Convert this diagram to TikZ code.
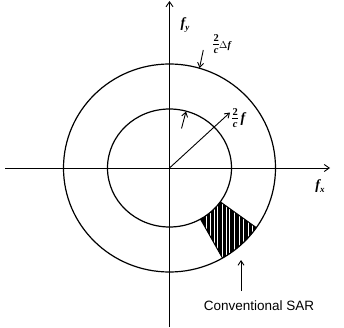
\documentclass[tikz,border=0pt]{standalone}
\usepackage{fontspec}
\setmainfont{Liberation Serif}
\newfontfamily\arialf{Liberation Sans}
\usetikzlibrary{arrows.meta}
\newcommand{\twoc}{\raisebox{-5pt}{\fontsize{10.5}{10.5}\selectfont\bfseries\shortstack{2\\[-0.5pt]\rule{6pt}{0.7pt}\\[0.5pt]\itshape c}}}
\begin{document}
\begin{tikzpicture}[x=1pt,y=1pt,
  axis/.style={line width=0.9pt,-{Straight Barb[length=5pt,width=7pt,line width=0.9pt]}},
  ring/.style={line width=1.2pt},
  pointer/.style={line width=0.9pt,-{Straight Barb[length=4.5pt,width=6pt,line width=0.9pt]}},
  lab/.style={inner sep=0pt,font=\bfseries\fontsize{14}{15}\selectfont}]
\useasboundingbox (0,0) rectangle (344,327);
\coordinate (O) at (169.5,159);
% shaded sector
\begin{scope}
\path[clip] ([shift={(O)}]-35:62pt and 59pt) arc[start angle=-35,end angle=-60,x radius=62pt,y radius=59pt]
  -- ([shift={(O)}]-60:106pt and 104pt) arc[start angle=-60,end angle=-35,x radius=106pt,y radius=104pt] -- cycle;
\fill[black] (190,50) rectangle (270,140);
\foreach \xx/\ww in {206/0.3,210/0.4,214/0.3,217/0.6,222/0.3,226/0.3,229/0.7,234/0.3,239/0.4,243/0.3,248/0.5,252/0.3}
  \draw[white,line width=\ww pt] (\xx,50) -- (\xx,140);
\end{scope}
\draw[line width=1pt] ([shift={(O)}]-35:62pt and 59pt) -- ([shift={(O)}]-35:106pt and 104pt);
\draw[line width=1pt] ([shift={(O)}]-60:62pt and 59pt) -- ([shift={(O)}]-60:106pt and 104pt);
% rings
\draw[ring] (O) ellipse[x radius=106pt,y radius=104pt];
\draw[ring] (O) ellipse[x radius=62pt,y radius=59pt];
% axes
\coordinate (xl) at (5,159);
\coordinate (xr) at (330,159);
\coordinate (yb) at (169.5,0);
\coordinate (yt) at (169.5,326);
\draw[axis] (xl) -- (xr);
\draw[axis] (yb) -- (yt);
\node[lab] (fy) at (185,302) {\itshape f\raisebox{-3pt}{\fontsize{9}{10}\selectfont\itshape y}};
\node[lab] (fx) at (320,141) {\itshape f\raisebox{-3pt}{\fontsize{9}{10}\selectfont\itshape x}};
% radius arrow
\coordinate (rt) at (230,214.5);
\draw[pointer] (O) -- (rt);
\node[lab,anchor=west] (rf) at (232,209) {\twoc\,\itshape f};
% small arrow to inner ring
\coordinate (sa) at (181.5,198.5);
\coordinate (sb) at (186,215.5);
\draw[pointer] (sa) -- (sb);
% delta f arrow
\coordinate (da) at (203.3,277);
\coordinate (db) at (199.5,259);
\draw[pointer] (da) -- (db);
\node[lab,anchor=west] (df) at (213,283) {\twoc{\fontsize{10}{11}\selectfont$\Delta$\itshape f}};
% conventional SAR
\coordinate (ca) at (241,36);
\coordinate (cb) at (241,67);
\draw[pointer] (ca) -- (cb);
\node[inner sep=0pt,font=\arialf\fontsize{13.5}{15}\selectfont] (cs) at (259,21) {Conventional SAR};
\end{tikzpicture}
\end{document}
